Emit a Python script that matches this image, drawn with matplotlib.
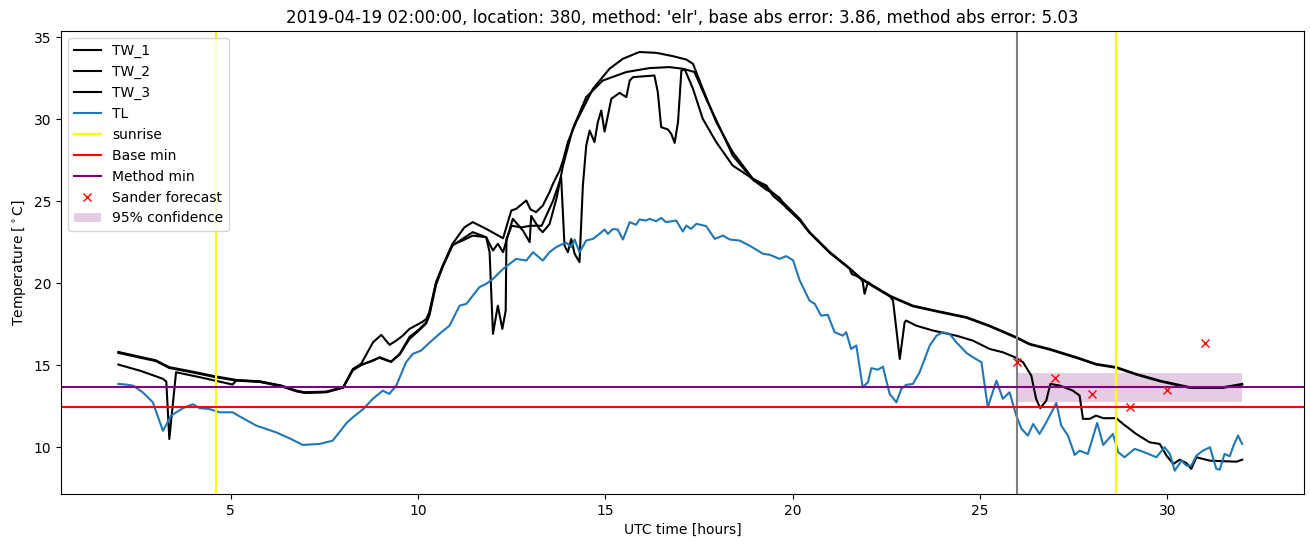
import matplotlib
matplotlib.use("Agg")
import matplotlib.pyplot as plt

# ---------------- data ----------------
tw1_t = [2.0, 2.5, 3.0, 3.36, 4.0, 4.57, 5.15, 5.77, 6.35, 6.75, 6.97, 7.55, 7.9, 8.0,
         8.26, 8.48, 8.8, 9.02, 9.24, 9.42, 9.59, 9.77, 10.13, 10.22, 10.3, 10.48, 10.66,
         10.92, 11.24, 11.46, 11.82, 12.27, 12.49, 12.62, 12.89, 13.0, 13.15, 13.33, 13.51,
         13.6, 13.78, 13.87, 14.0, 14.22, 14.67, 15.11, 15.47, 15.91, 16.36, 16.8, 17.16,
         17.34, 17.6, 17.96, 18.4, 18.94, 19.3, 19.47, 19.83, 20.19, 20.45, 20.99, 21.52,
         21.78, 22.14, 22.59, 23.21, 23.93, 24.64, 25.26, 25.97, 26.33, 26.86, 27.57, 28.1,
         28.64, 29.17, 29.8, 30.6, 31.49, 31.76, 32.0]
tw1_v = [15.81, 15.55, 15.3, 14.88, 14.6, 14.33, 14.10, 14.02, 13.76, 13.45, 13.35, 13.39,
         13.6, 13.66, 14.77, 15.08, 16.4, 16.85, 16.24, 16.5, 16.8, 17.21, 17.66, 17.82,
         18.23, 20.06, 21.07, 22.4, 23.41, 23.72, 23.31, 22.74, 24.43, 24.53, 25.04, 24.5,
         24.33, 24.73, 25.55, 26.05, 26.87, 27.48, 28.6, 29.82, 31.85, 33.07, 33.68, 34.09,
         34.04, 33.84, 33.63, 33.37, 31.85, 29.82, 27.99, 26.36, 25.95, 25.34, 24.63, 23.82,
         23.11, 21.89, 20.91, 20.37, 19.85, 19.24, 18.63, 18.27, 17.93, 17.41, 16.71, 16.3,
         15.99, 15.49, 15.08, 14.88, 14.47, 14.06, 13.66, 13.66, 13.76, 13.86]

tw2_t = [2.0, 2.5, 3.0, 3.36, 4.0, 4.57, 5.15, 5.77, 6.35, 6.75, 6.97, 7.55, 7.9, 8.0,
         8.26, 8.48, 8.8, 8.97, 9.28, 9.51, 9.77, 10.04, 10.22, 10.3, 10.48, 10.66, 10.92,
         11.19, 11.46, 11.82, 12.0, 12.13, 12.27, 12.53, 12.8, 12.98, 13.02, 13.24, 13.33,
         13.51, 13.7, 13.87, 14.13, 14.49, 14.93, 15.56, 16.18, 16.71, 17.07, 17.38, 17.69,
         18.05, 18.4, 18.94, 19.3, 19.5, 19.65, 19.83, 20.19, 20.45, 20.99, 21.52, 21.58,
         21.7, 21.78, 22.14, 22.59, 23.21, 23.93, 24.64, 25.26, 25.97, 26.33, 26.86, 27.57,
         28.1, 28.64, 29.17, 29.8, 30.6, 31.49, 31.76, 32.0]
tw2_v = [15.75, 15.5, 15.25, 14.83, 14.55, 14.28, 14.06, 13.98, 13.72, 13.41, 13.31, 13.35,
         13.57, 13.63, 14.72, 15.03, 15.28, 15.49, 15.22, 15.69, 16.71, 17.21, 17.62, 18.0,
         19.9, 21.0, 22.3, 22.7, 23.11, 22.8, 21.99, 22.4, 21.89, 23.92, 23.21, 22.5, 24.1,
         23.31, 23.11, 23.6, 25.2, 27.17, 29.41, 31.34, 32.35, 32.87, 33.11, 33.17, 33.07,
         32.87, 31.24, 29.51, 27.78, 26.3, 25.7, 25.45, 25.2, 24.6, 23.85, 23.07, 21.85,
         20.88, 20.55, 20.45, 20.33, 19.81, 19.2, 18.59, 18.23, 17.89, 17.37, 16.67, 16.26,
         15.95, 15.45, 15.04, 14.84, 14.43, 14.02, 13.62, 13.62, 13.72, 13.82]

tw3_t = [2.0, 2.6, 3.19, 3.28, 3.36, 3.54, 4.17, 4.8, 5.05, 5.15, 5.77, 6.35, 6.75, 6.97,
         7.55, 7.9, 8.0, 8.26, 8.48, 8.8, 8.97, 9.28, 9.51, 9.77, 10.04, 10.22, 10.3, 10.48,
         10.66, 10.92, 11.19, 11.46, 11.82, 11.91, 12.0, 12.13, 12.25, 12.34, 12.36, 12.5,
         12.75, 13.0, 13.3, 13.6, 13.82, 13.91, 14.0, 14.09, 14.18, 14.31, 14.4, 14.49, 14.58,
         14.71, 14.8, 14.89, 14.98, 15.16, 15.38, 15.56, 15.65, 15.74, 16.09, 16.31, 16.4,
         16.49, 16.67, 16.76, 16.85, 16.94, 17.03, 17.12, 17.34, 17.6, 17.96, 18.4, 18.94,
         19.3, 19.65, 20.19, 20.45, 20.99, 21.52, 21.78, 21.87, 21.92, 22.01, 22.14, 22.59,
         22.68, 22.86, 22.99, 23.03, 23.3, 23.75, 24.37, 24.81, 25.26, 25.61, 25.93, 26.15,
         26.37, 26.5, 26.61, 26.77, 26.88, 27.13, 27.48, 27.66, 27.75, 27.93, 28.1, 28.29,
         28.64, 28.82, 29.17, 29.53, 29.8, 29.98, 30.16, 30.33, 30.51, 30.64, 30.78, 31.14,
         31.85, 32.0]
tw3_v = [15.04, 14.65, 14.17, 14.0, 10.5, 14.57, 14.27, 13.95, 13.82, 14.08, 14.0, 13.74,
         13.43, 13.33, 13.37, 13.58, 13.64, 14.7, 15.0, 15.3, 15.45, 15.2, 15.65, 16.6,
         17.15, 17.55, 18.1, 20.0, 21.05, 22.35, 22.6, 22.9, 22.8, 21.89, 16.91, 18.63,
         17.21, 18.33, 22.7, 23.5, 23.4, 23.5, 23.5, 25.0, 26.46, 22.29, 21.89, 22.7, 21.79,
         21.28, 25.95, 28.39, 29.3, 28.6, 29.82, 30.52, 29.24, 31.24, 31.6, 31.34, 32.35,
         32.56, 32.62, 32.66, 31.65, 29.51, 29.37, 29.1, 28.55, 29.82, 32.96, 33.03, 31.85,
         30.02, 28.6, 27.17, 26.36, 25.85, 25.14, 23.92, 23.1, 21.87, 20.9, 20.37, 20.1,
         19.35, 20.06, 19.85, 19.24, 18.94, 15.38, 17.62, 17.72, 17.41, 17.11, 16.8, 16.5,
         15.99, 15.79, 15.49, 15.18, 14.37, 12.95, 12.38, 12.84, 13.86, 13.76, 13.45, 13.15,
         11.73, 11.73, 11.93, 11.77, 11.77, 11.42, 10.81, 10.3, 10.2, 9.49, 8.98, 9.24, 9.04,
         8.68, 9.39, 9.18, 9.12, 9.24]

tl_t = [2.0, 2.21, 2.4, 2.65, 2.92, 3.19, 3.41, 3.72, 3.99, 4.17, 4.43, 4.7, 5.05, 5.23,
        5.68, 6.21, 6.61, 6.92, 7.37, 7.72, 7.9, 8.1, 8.3, 8.55, 8.79, 9.06, 9.23, 9.42,
        9.68, 9.86, 10.08, 10.3, 10.57, 10.84, 11.11, 11.29, 11.64, 11.82, 12.0, 12.27,
        12.62, 12.89, 13.07, 13.33, 13.51, 13.69, 13.87, 13.96, 14.09, 14.18, 14.31, 14.49,
        14.67, 14.84, 14.98, 15.07, 15.2, 15.33, 15.47, 15.65, 15.82, 15.91, 16.09, 16.18,
        16.36, 16.49, 16.62, 16.89, 17.07, 17.16, 17.29, 17.43, 17.69, 17.92, 18.14, 18.32,
        18.58, 18.85, 19.21, 19.39, 19.65, 19.83, 20.01, 20.19, 20.45, 20.59, 20.76, 20.94,
        21.12, 21.34, 21.43, 21.56, 21.7, 21.87, 22.01, 22.1, 22.28, 22.41, 22.59, 22.77,
        22.9, 23.03, 23.21, 23.39, 23.66, 23.84, 24.01, 24.19, 24.37, 24.64, 24.81, 25.04,
        25.21, 25.44, 25.61, 25.79, 25.97, 26.11, 26.28, 26.42, 26.59, 26.77, 27.04, 27.17,
        27.35, 27.53, 27.66, 27.88, 28.13, 28.29, 28.55, 28.69, 28.86, 29.13, 29.35, 29.71,
        29.93, 30.07, 30.2, 30.38, 30.51, 30.64, 30.78, 30.95, 31.14, 31.31, 31.4, 31.53,
        31.67, 31.77, 31.89, 32.0]
tl_v = [13.86, 13.82, 13.75, 13.35, 12.74, 11.0, 11.93, 12.38, 12.62, 12.38, 12.33, 12.13,
        12.13, 11.89, 11.32, 10.91, 10.5, 10.14, 10.2, 10.4, 10.91, 11.5, 11.9, 12.35,
        12.95, 13.45, 13.25, 13.76, 15.18, 15.69, 15.89, 16.36, 16.91, 17.41, 18.63, 18.74,
        19.76, 19.96, 20.26, 20.87, 21.48, 21.38, 21.89, 21.38, 21.89, 22.2, 22.4, 22.46,
        22.2, 22.66, 21.89, 22.6, 22.7, 23.0, 23.27, 23.0, 23.3, 23.27, 22.66, 23.72, 23.56,
        23.88, 23.82, 23.92, 23.78, 23.98, 23.72, 23.82, 23.15, 23.51, 23.31, 23.62, 23.48,
        22.7, 22.9, 22.66, 22.6, 22.29, 21.79, 21.73, 21.48, 21.65, 21.4, 20.16, 18.94,
        18.74, 18.02, 18.07, 17.01, 16.8, 17.01, 15.99, 16.2, 13.66, 13.96, 14.82, 14.73,
        14.91, 13.25, 12.74, 13.55, 13.8, 13.86, 14.57, 16.2, 16.8, 17.01, 16.91, 16.4,
        15.75, 15.49, 15.18, 12.44, 14.06, 12.95, 13.35, 11.93, 11.12, 10.71, 11.42, 10.81,
        11.52, 12.7, 11.32, 10.71, 9.53, 9.79, 9.59, 11.48, 10.14, 10.81, 9.7, 9.39, 9.9,
        9.73, 9.39, 10.0, 9.59, 8.57, 9.18, 8.88, 8.88, 9.49, 9.79, 10.0, 8.68, 8.63, 9.59,
        9.45, 10.1, 10.71, 10.2]

sunrise_times = [4.6, 28.64]
forecast_start = 26.0
base_min = 12.46
method_min = 13.65
sander_t = [26, 27, 28, 29, 30, 31]
sander_v = [15.18, 14.21, 13.23, 12.44, 13.48, 16.36]
conf_t = [26.0, 32.0]
conf_low = [12.78, 12.78]
conf_high = [14.53, 14.53]

title = ("2019-04-19 02:00:00, location: 380, method: 'elr', "
         "base abs error: 3.86, method abs error: 5.03")

# ---------------- plot ----------------
fig = plt.figure(figsize=(13.1, 5.47), dpi=100)
ax = fig.add_axes([0.0466, 0.0969, 0.9488, 0.8464])

ax.plot(tw1_t, tw1_v, color="black", label="TW_1")
ax.plot(tw2_t, tw2_v, color="black", label="TW_2")
ax.plot(tw3_t, tw3_v, color="black", label="TW_3")
ax.plot(tl_t, tl_v, color="tab:blue", label="TL")
for i, s in enumerate(sunrise_times):
    ax.axvline(s, color="yellow", label="sunrise" if i == 0 else None)
ax.axvline(forecast_start, color="grey")
ax.axhline(base_min, color="red", label="Base min")
ax.axhline(method_min, color="purple", label="Method min")
ax.plot(sander_t, sander_v, "x", color="red", label="Sander forecast")
ax.fill_between(conf_t, conf_low, conf_high, color="purple", alpha=0.2,
                linewidth=0, label="95% confidence")

ax.set_xlim(0.47, 33.65)
ax.set_ylim(7.15, 35.37)
ax.set_title(title)
ax.set_xlabel("UTC time [hours]")
ax.set_ylabel(r"Temperature [$^\circ$C]")
ax.legend(loc="upper left")

fig.savefig("out.png", dpi=100)
